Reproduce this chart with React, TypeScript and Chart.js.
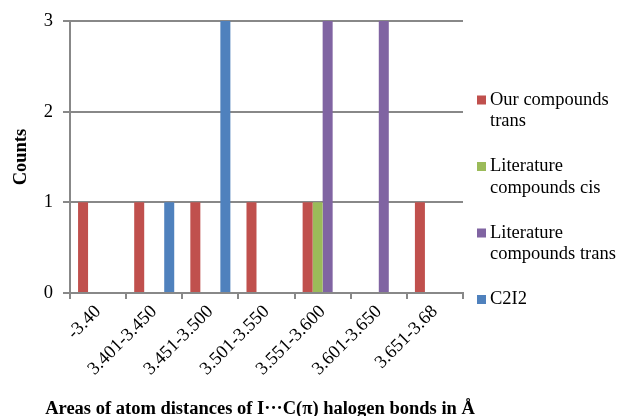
import React, { useEffect, useRef } from "react";
import { Chart, registerables } from "chart.js";

Chart.register(...registerables);

const categories = ["-3.40", "3.401-3.450", "3.451-3.500", "3.501-3.550", "3.551-3.600", "3.601-3.650", "3.651-3.68"];
const seriesNames = ["Our compounds trans", "Literature compounds cis", "Literature compounds trans", "C2I2"];
const ourTrans = [1, 1, 1, 1, 1, 0, 1];
const litCis = [0, 0, 0, 0, 1, 0, 0];
const litTrans = [0, 0, 0, 0, 3, 3, 0];
const c2i2 = [0, 1, 3, 0, 0, 0, 0];
const seriesColors = ["#C0504D", "#9BBB59", "#8064A2", "#4F81BD"];
const yTicks = [0, 1, 2, 3];
const xTitle = "Areas of atom distances of I\u00B7\u00B7\u00B7C(\u03C0) halogen bonds in \u00C5";
const yTitle = "Counts";

const SERIF = "'Times New Roman', 'Liberation Serif', serif";
const GRID = "#888888";

function wrapText(ctx: CanvasRenderingContext2D, text: string, maxW: number): string[] {
  const words = text.split(" ");
  const lines: string[] = [];
  let cur = "";
  for (const w of words) {
    const test = cur ? cur + " " + w : w;
    if (ctx.measureText(test).width > maxW && cur) {
      lines.push(cur);
      cur = w;
    } else {
      cur = test;
    }
  }
  if (cur) lines.push(cur);
  return lines;
}

const legendPlugin = {
  id: "sideLegend",
  afterDraw(chart: any) {
    const ctx = chart.ctx as CanvasRenderingContext2D;
    ctx.save();
    ctx.font = `18.5px ${SERIF}`;
    ctx.textBaseline = "middle";
    ctx.textAlign = "left";
    const startY = 100;
    const step = 66.5;
    const lineH = 21.5;
    chart.data.datasets.forEach((ds: any, i: number) => {
      const y = startY + i * step;
      ctx.fillStyle = ds.backgroundColor;
      ctx.fillRect(477, y - 4.5, 9, 9);
      ctx.fillStyle = "#000";
      const lines = wrapText(ctx, ds.label, 134);
      lines.forEach((ln, k) => ctx.fillText(ln, 490, y + k * lineH));
    });
    // x axis title (drawn freely so it is not squeezed to the axis width)
    ctx.font = `bold 18.5px ${SERIF}`;
    ctx.textAlign = "center";
    ctx.textBaseline = "alphabetic";
    ctx.fillText(xTitle, 260, 414);
    ctx.restore();
  },
};

export default function App() {
  const ref = useRef<HTMLCanvasElement | null>(null);
  useEffect(() => {
    if (!ref.current) return;
    const values = [ourTrans, litCis, litTrans, c2i2];
    const chart = new Chart(ref.current, {
      type: "bar",
      data: {
        labels: categories,
        datasets: seriesNames.map((name, i) => ({
          label: name,
          data: values[i],
          backgroundColor: seriesColors[i],
          borderWidth: 0,
          categoryPercentage: 0.713,
          barPercentage: 1.0,
        })),
      },
      options: {
        animation: false,
        responsive: true,
        maintainAspectRatio: false,
        layout: { padding: { left: 0, top: 17, right: 155, bottom: 0 } },
        plugins: {
          legend: { display: false },
          tooltip: { enabled: false },
        },
        scales: {
          x: {
            offset: true,
            grid: {
              display: true,
              offset: true,
              drawOnChartArea: false,
              drawTicks: true,
              tickLength: 6,
              color: GRID,
              lineWidth: 2,
            },
            border: { color: GRID, width: 2 },
            ticks: {
              autoSkip: false,
              minRotation: 45,
              maxRotation: 45,
              padding: 2,
              color: "#000",
              font: { family: SERIF, size: 18.5 },
            },
            title: { display: false },
            afterFit(scale: any) {
              scale.height = 123;
            },
          },
          y: {
            min: 0,
            max: 3,
            afterBuildTicks(scale: any) {
              scale.ticks = yTicks.map((v) => ({ value: v }));
            },
            grid: {
              color: GRID,
              lineWidth: 2,
              drawTicks: true,
              tickLength: 7,
            },
            border: { color: GRID, width: 2 },
            ticks: {
              padding: 10,
              color: "#000",
              font: { family: SERIF, size: 18.5 },
            },
            title: {
              display: true,
              text: yTitle,
              color: "#000",
              font: { family: SERIF, size: 18.5, weight: "bold" },
              padding: { top: 10, bottom: 0 },
            },
            afterFit(scale: any) {
              scale.width = 70;
            },
          },
        },
      },
      plugins: [legendPlugin],
    });
    return () => chart.destroy();
  }, []);
  return (
    <div style={{ position: "fixed", left: 0, top: 0, width: 618, height: 416, background: "#fff" }}>
      <canvas ref={ref} />
    </div>
  );
}
